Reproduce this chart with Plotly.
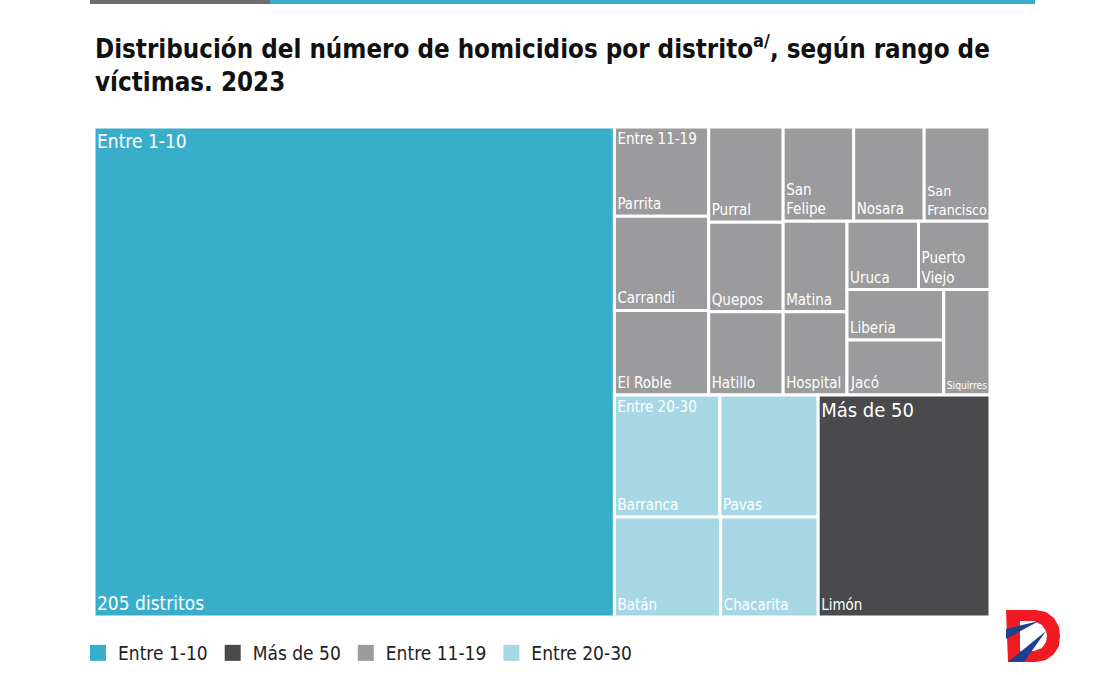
import plotly.graph_objects as go

# ---------------- data ----------------
groups = ["Entre 1-10", "Entre 11-19", "Entre 20-30", "Más de 50"]
group_colors = ["#39AECB", "#9B9B9D", "#A7D7E5", "#4A4A4D"]

g1_districts = ["205 distritos"]
g1_values = [575]

g2_districts = ["Parrita", "Carrandi", "El Roble", "Purral", "Quepos", "Hatillo",
                "San Felipe", "Nosara", "San Francisco", "Matina", "Hospital",
                "Uruca", "Puerto Viejo", "Liberia", "Jacó", "Siquirres"]
g2_values = [19, 20, 18, 16, 15, 14, 15, 15, 14, 13, 12, 11, 11, 11, 12, 11]

g3_districts = ["Barranca", "Pavas", "Batán", "Chacarita"]
g3_values = [29, 27, 24, 22]

g4_districts = ["Limón"]
g4_values = [86]

legend_order = ["Entre 1-10", "Más de 50", "Entre 11-19", "Entre 20-30"]

# two-line display names for narrow cells
display_names = {"San Felipe": "San<br>Felipe", "Puerto Viejo": "Puerto<br>Viejo",
                 "San Francisco": "San<br>Francisco"}

title_text = ("Distribución del número de homicidios por distrito<sup>a/</sup>, según rango de<br>"
              "víctimas. 2023")

# ---------------- build hierarchy ----------------
children = [(g1_districts, g1_values), (g2_districts, g2_values),
            (g3_districts, g3_values), (g4_districts, g4_values)]

ids, labels, parents, values, colors = [], [], [], [], []
leaf_text, head_text, head_size = [], [], []
header_sizes = {"Entre 1-10": 19, "Más de 50": 20}
for g, col, (names, vals) in zip(groups, group_colors, children):
    ids.append(g); labels.append(g); parents.append(""); values.append(sum(vals))
    colors.append(col); leaf_text.append(""); head_text.append(""); head_size.append(15)
    for i, (n, v) in enumerate(zip(names, vals)):
        ids.append(g + "/" + n); labels.append(n); parents.append(g); values.append(v)
        colors.append(col)
        leaf_text.append(display_names.get(n, n))
        head_text.append(g if i == 0 else "")
        head_size.append(header_sizes.get(g, 15) if i == 0 else 15)

leaf_size = [19 if t == "205 distritos" else 15 for t in leaf_text]

FONT = "DejaVu Sans Condensed, Liberation Sans Narrow, Roboto, Arial, sans-serif"

fig = go.Figure()

fig.add_trace(go.Treemap(
    ids=ids, labels=labels, parents=parents, values=values,
    branchvalues="total", sort=False,
    texttemplate=leaf_text, textposition="bottom left",
    textfont=dict(family=FONT, color="white", size=leaf_size),
    marker=dict(colors=colors, line=dict(color="white", width=3),
                pad=dict(t=0, l=0, r=0, b=0)),
    tiling=dict(pad=0, squarifyratio=1),
    pathbar=dict(visible=False),
    hoverinfo="label+value",
    domain=dict(x=[0, 1], y=[0, 1]),
))

fig.add_trace(go.Treemap(
    ids=ids, labels=labels, parents=parents, values=values,
    branchvalues="total", sort=False,
    texttemplate=head_text, textposition="top left",
    textfont=dict(family=FONT, color="white", size=head_size),
    marker=dict(colors=["rgba(0,0,0,0)"] * len(ids), line=dict(width=0),
                pad=dict(t=0, l=0, r=0, b=0)),
    tiling=dict(pad=0, squarifyratio=1),
    pathbar=dict(visible=False),
    hoverinfo="skip",
    domain=dict(x=[0, 1], y=[0, 1]),
))

# legend proxies
for name in legend_order:
    col = group_colors[groups.index(name)]
    fig.add_trace(go.Scatter(x=[None], y=[None], mode="markers", name=name,
                             marker=dict(symbol="square", size=16, color=col),
                             showlegend=True, hoverinfo="skip"))

# ---------------- decorations ----------------
L, R, T, B = 94, 124, 127, 58
W, H = 1114, 675
PW, PH = W - L - R, H - T - B

def px(x):
    return (x - L) / PW

def py(y):
    return (H - B - y) / PH

def path(points):
    return "M " + " L ".join(f"{px(a):.5f},{py(b):.5f}" for a, b in points) + " Z"

shapes = [
    dict(type="rect", xref="paper", yref="paper", x0=px(90), x1=px(270), y0=py(4), y1=py(0),
         fillcolor="#6E6E6E", line=dict(width=0), layer="above"),
    dict(type="rect", xref="paper", yref="paper", x0=px(270), x1=px(1035), y0=py(4), y1=py(0),
         fillcolor="#39AECB", line=dict(width=0), layer="above"),
]
# logo (approximate)
d_outer = [(1006, 610), (1036, 610), (1046, 612), (1054, 618), (1059, 627), (1060, 636),
           (1059, 646), (1054, 654), (1046, 660), (1036, 662), (1008, 662)]
d_inner = [(1020, 621), (1034, 621), (1042, 625), (1046, 631), (1047, 636), (1046, 642),
           (1042, 648), (1034, 651), (1020, 651)]
shapes.append(dict(type="path", xref="paper", yref="paper", path=path(d_outer),
                   fillcolor="#F01A22", line=dict(width=0), layer="above"))
shapes.append(dict(type="path", xref="paper", yref="paper", path=path(d_inner),
                   fillcolor="white", line=dict(width=0), layer="above"))
shapes.append(dict(type="path", xref="paper", yref="paper",
                   path=path([(1006, 629), (1039, 621), (1006, 639)]),
                   fillcolor="#1F3F8F", line=dict(width=0), layer="above"))
shapes.append(dict(type="path", xref="paper", yref="paper",
                   path=path([(1008, 662), (1046, 631), (1024, 662)]),
                   fillcolor="#1F3F8F", line=dict(width=0), layer="above"))

fig.update_layout(
    width=W, height=H,
    margin=dict(l=L, r=R, t=T, b=B, autoexpand=False),
    paper_bgcolor="white", plot_bgcolor="white",
    xaxis=dict(visible=False), yaxis=dict(visible=False),
    legend=dict(orientation="h", x=px(78), xanchor="left", y=py(634), yanchor="top",
                font=dict(family=FONT, size=19, color="#222222"),
                tracegroupgap=0, bgcolor="rgba(0,0,0,0)"),
    shapes=shapes,
    annotations=[dict(text=f"<b>{title_text}</b>", xref="paper", yref="paper",
                      x=px(93), y=py(28), xanchor="left", yanchor="top", align="left",
                      showarrow=False,
                      font=dict(family=FONT, size=25.7, color="#111111"))],
)

fig.write_html("out.html")
